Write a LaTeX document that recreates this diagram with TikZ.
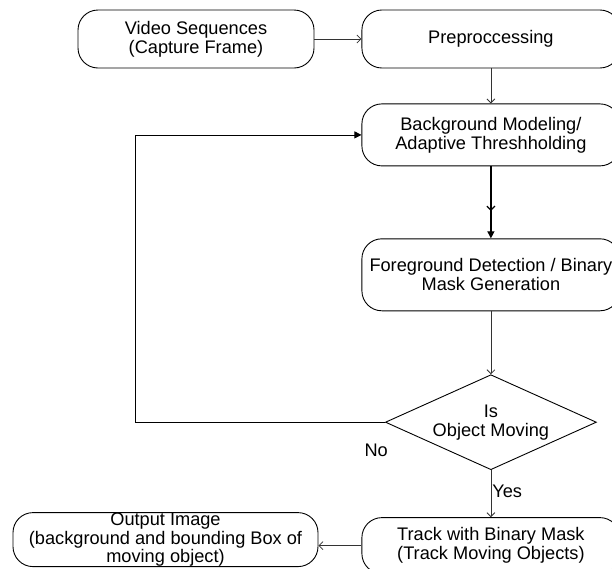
\documentclass[tikz,border=0pt]{standalone}
\usepackage{fontspec}
\setmainfont{Liberation Sans}
\usetikzlibrary{shapes.geometric, arrows.meta, positioning, decorations.markings}

\begin{document}
\begin{tikzpicture}[
        x=1pt, y=-1pt,
        node distance=40pt and 45pt,
        box/.style={rectangle, draw=black, rounded corners=20pt, fill=white, align=center, line width=0.9pt, minimum height=58pt, minimum width=258pt, inner sep=0pt, font=\fontsize{18.2pt}{19pt}\selectfont},
        decide/.style={diamond, draw=black, fill=white, align=center, line width=0.9pt, aspect=2.2, inner sep=0pt, minimum width=211pt, minimum height=95pt, font=\fontsize{18.2pt}{19pt}\selectfont},
        lbl/.style={inner sep=1pt, font=\fontsize{18.2pt}{19pt}\selectfont},
        arrow/.style={-{Straight Barb[length=4pt, width=8pt]}, line width=0.8pt, draw=black!80},
        solidarrow/.style={-{Triangle[length=7pt, width=7pt]}, line width=0.8pt, draw=black}
    ]
        \useasboundingbox (0,0) rectangle (612,568);

        % Top row
        \node[box, minimum width=236pt] (video) at (196,39) {Video Sequences\\(Capture Frame)};
        \node[box, right=47pt of video] (prep) {Preproccessing};

        % Right column
        \node[box, below=35pt of prep, minimum height=62pt] (bg) {Background Modeling/\\Adaptive Threshholding};
        \node[box, below=72pt of bg, minimum height=72pt] (fg) {Foreground Detection / Binary\\Mask Generation};
        \node[decide, below=63pt of fg] (moving) {Is\\Object Moving};
        \node[box, below=47pt of moving, minimum height=56pt] (track) {Track with Binary Mask\\(Track Moving Objects)};

        % Output (left)
        \node[box, left=43pt of track, yshift=6pt, minimum width=305pt, minimum height=54pt, font=\fontsize{18.2pt}{18.5pt}\selectfont] (output) {Output Image\\(background and bounding Box of\\moving object)};

        % Connections
        \draw[arrow] (video) -- (prep);
        \draw[arrow] (prep) -- (bg);
        \draw[solidarrow, line width=1.2pt, postaction={decorate},
            decoration={markings, mark=at position 0.62 with {\arrow{Straight Barb[length=4pt, width=8pt]}}}] (bg) -- (fg);
        \draw[arrow] (fg) -- (moving);
        \draw[solidarrow] (moving.west) -- node[lbl, pos=0.035, below=20pt] {No} ++(-250,0) |- (bg.west);
        \draw[arrow] (moving) -- node[lbl, right, pos=0.45] {Yes} (track);
        \draw[arrow] (track.west) -- (track.west -| output.east);
    \end{tikzpicture}
\end{document}
